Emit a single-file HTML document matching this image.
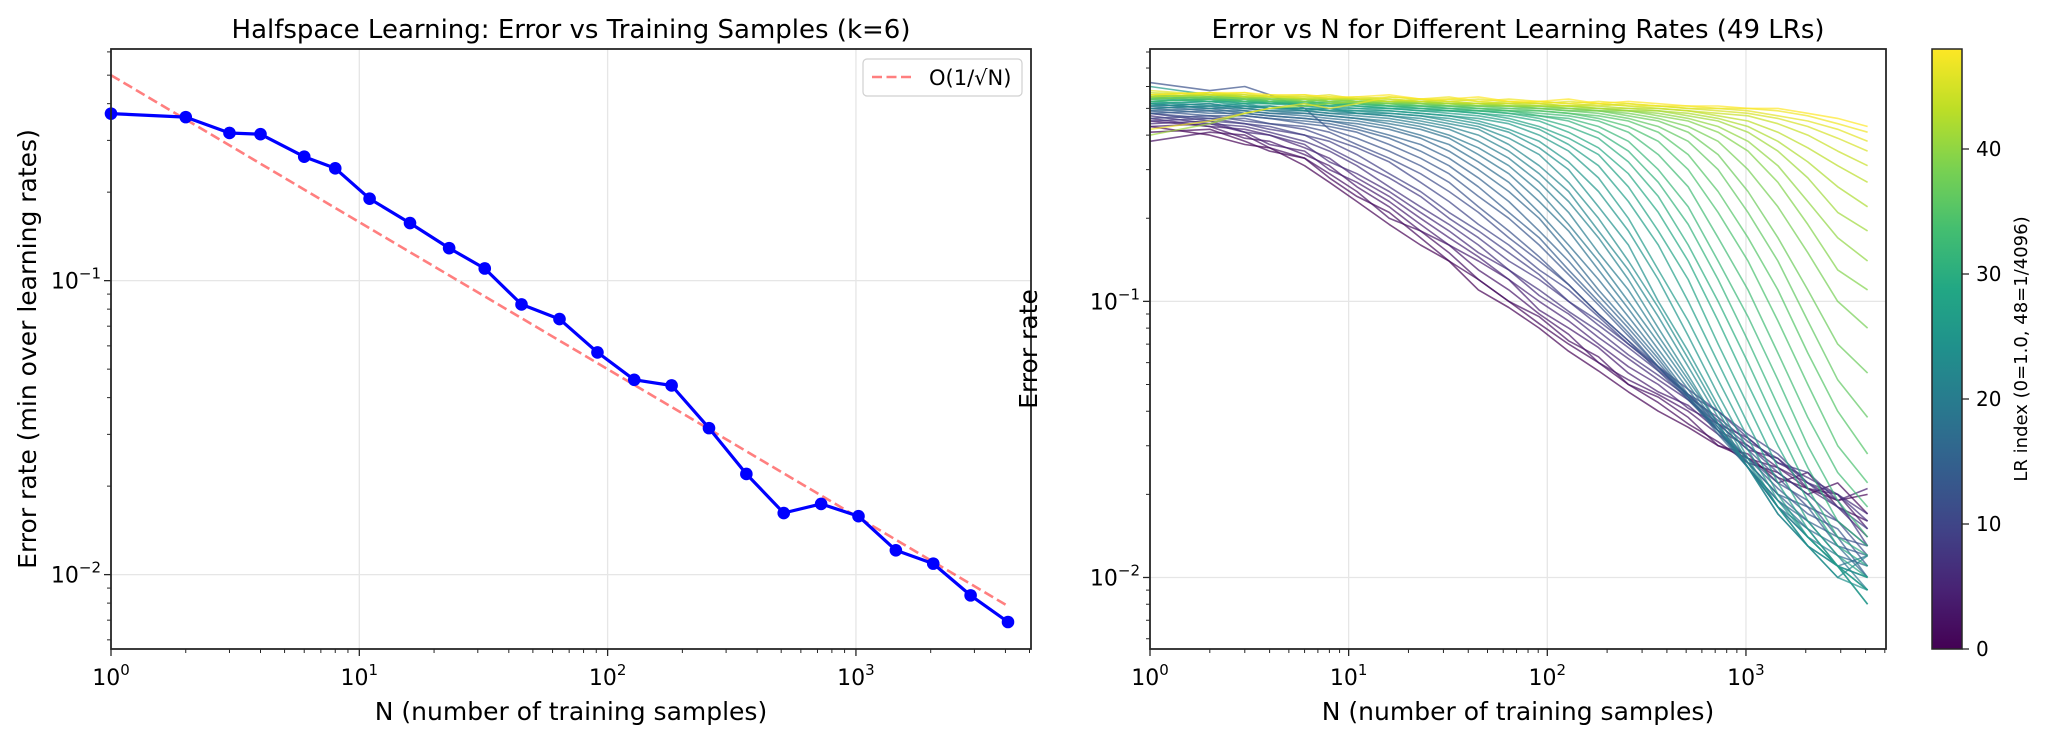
<!DOCTYPE html>
<html><head><meta charset="utf-8"><style>
html,body{margin:0;padding:0;background:#fff;}
svg{display:block;font-family:"DejaVu Sans","Liberation Sans",sans-serif;}
</style></head><body>
<svg id="fig" width="2046" height="736" viewBox="0 0 2046 736" xmlns="http://www.w3.org/2000/svg">
<rect width="2046" height="736" fill="#fff"/>
<g id="left"></g>
<g id="right"></g>
<g id="cbar"></g>
</svg>
<script>
const NS="http://www.w3.org/2000/svg";
const nValues=[1,2,3,4,6,8,11,16,23,32,45,64,91,128,181,256,362,512,724,1024,1448,2048,2896,4096];
const minError=[0.37,0.36,0.318,0.315,0.264,0.241,0.19,0.157,0.129,0.11,0.083,0.074,0.057,0.046,0.044,0.0315,0.022,0.0162,0.0174,0.0158,0.0121,0.0109,0.0085,0.0069];
const refConst=[0.5];
const xTickLabels=["0","1","2","3"];
const yTickExps=["-1","-2"];
const cbarTicks=[0,10,20,30,40];
const lrCurves=[
[.43,.40,.37,.36,.31,.27,.23,.19,.16,.14,.11,.095,.08,.066,.056,.047,.04,.035,.03,.027,.023,.021,.019,.02],
[.41,.42,.38,.35,.33,.28,.24,.21,.17,.14,.12,.10,.083,.07,.06,.05,.043,.036,.031,.026,.024,.02,.022,.017],
[.38,.41,.40,.36,.33,.29,.25,.20,.18,.15,.12,.10,.088,.072,.063,.05,.045,.038,.03,.028,.022,.024,.018,.016],
[.45,.43,.39,.38,.34,.31,.26,.22,.18,.16,.13,.11,.09,.076,.06,.052,.046,.04,.033,.027,.025,.021,.02,.015],
[.43,.44,.41,.37,.35,.30,.27,.23,.19,.16,.14,.12,.093,.08,.068,.055,.047,.042,.034,.03,.025,.022,.019,.021],
[.46,.43,.42,.40,.36,.33,.28,.24,.20,.17,.145,.12,.10,.085,.07,.058,.05,.041,.036,.029,.027,.021,.018,.014],
[.44,.45,.41,.40,.37,.32,.29,.25,.21,.18,.15,.13,.105,.09,.074,.062,.052,.044,.036,.032,.026,.023,.02,.017],
[.47,.44,.43,.41,.38,.35,.31,.26,.22,.19,.16,.13,.11,.092,.078,.064,.054,.045,.038,.031,.027,.022,.02,.016],
[.45,.46,.44,.42,.40,.36,.32,.28,.24,.20,.17,.14,.12,.10,.082,.068,.056,.046,.04,.032,.026,.024,.019,.013],
[.48,.45,.44,.43,.40,.38,.34,.29,.25,.21,.18,.15,.125,.10,.085,.07,.058,.048,.04,.033,.028,.022,.018,.015],
[.46,.47,.45,.44,.42,.39,.36,.32,.27,.23,.19,.16,.13,.11,.088,.07,.057,.046,.037,.03,.024,.02,.016,.013],
[.48,.46,.46,.44,.43,.41,.37,.33,.29,.25,.21,.17,.14,.115,.09,.072,.058,.046,.036,.029,.023,.018,.016,.012],
[.62,.58,.60,.56,.50,.42,.39,.35,.31,.27,.22,.18,.145,.115,.09,.072,.056,.044,.035,.027,.022,.019,.014,.013],
[.49,.47,.47,.46,.44,.43,.41,.37,.33,.29,.24,.2,.16,.125,.097,.075,.058,.044,.034,.027,.021,.017,.015,.011],
[.48,.49,.47,.46,.45,.44,.42,.39,.35,.31,.26,.21,.17,.13,.10,.077,.058,.045,.034,.026,.02,.018,.013,.012],
[.50,.48,.48,.47,.46,.45,.43,.40,.37,.33,.28,.23,.18,.14,.105,.08,.06,.045,.034,.026,.02,.016,.014,.01],
[.49,.50,.48,.47,.46,.45,.44,.42,.39,.35,.30,.25,.20,.15,.11,.083,.062,.045,.033,.025,.019,.016,.012,.011],
[.51,.49,.49,.48,.47,.46,.45,.43,.40,.37,.32,.27,.21,.16,.12,.088,.064,.046,.034,.025,.019,.015,.013,.01],
[.50,.51,.49,.48,.48,.47,.46,.44,.42,.39,.34,.29,.23,.18,.13,.094,.067,.048,.034,.025,.018,.015,.011,.012],
[.52,.50,.50,.49,.48,.47,.46,.45,.43,.40,.36,.31,.25,.19,.14,.10,.071,.05,.035,.025,.018,.014,.012,.009],
[.51,.52,.50,.49,.49,.48,.47,.46,.44,.42,.38,.33,.27,.21,.15,.11,.075,.052,.036,.025,.018,.014,.011,.01],
[.50,.51,.51,.50,.49,.48,.48,.47,.45,.43,.40,.35,.29,.23,.17,.12,.08,.054,.036,.025,.017,.013,.011,.009],
[.52,.50,.51,.50,.50,.49,.48,.47,.46,.44,.42,.37,.31,.25,.18,.13,.088,.058,.038,.025,.017,.013,.01,.012],
[.51,.52,.50,.51,.49,.50,.48,.48,.47,.45,.43,.39,.34,.27,.20,.14,.095,.062,.04,.026,.018,.013,.011,.008],
[.53,.51,.52,.50,.50,.49,.49,.48,.47,.46,.44,.41,.36,.30,.22,.16,.10,.066,.042,.027,.018,.013,.01,.009],
[.52,.53,.51,.51,.50,.50,.49,.49,.48,.47,.45,.42,.38,.32,.25,.18,.12,.075,.046,.029,.019,.014,.011,.01],
[.60,.56,.55,.53,.51,.50,.50,.49,.48,.47,.46,.44,.40,.35,.28,.20,.13,.085,.052,.032,.02,.014,.011,.008],
[.53,.54,.52,.52,.51,.51,.50,.50,.49,.48,.47,.45,.42,.37,.31,.23,.16,.10,.06,.036,.022,.015,.011,.009],
[.52,.53,.53,.52,.52,.51,.51,.50,.49,.49,.48,.46,.43,.39,.34,.26,.18,.12,.07,.042,.025,.016,.012,.01],
[.54,.53,.52,.53,.51,.52,.51,.50,.50,.49,.48,.47,.45,.41,.36,.29,.21,.14,.085,.05,.03,.019,.013,.011],
[.53,.54,.53,.52,.52,.51,.52,.51,.50,.49,.49,.48,.46,.43,.39,.32,.24,.16,.10,.06,.035,.021,.014,.012],
[.55,.53,.54,.52,.53,.52,.51,.51,.50,.50,.49,.48,.47,.45,.41,.35,.27,.19,.12,.072,.042,.025,.016,.013],
[.54,.55,.53,.53,.52,.52,.52,.51,.51,.50,.49,.49,.47,.46,.43,.38,.30,.22,.14,.088,.052,.03,.019,.014],
[.53,.54,.54,.53,.53,.52,.52,.51,.51,.50,.50,.49,.48,.47,.45,.41,.34,.26,.17,.11,.065,.038,.024,.018],
[.55,.54,.53,.54,.52,.53,.52,.52,.51,.51,.50,.49,.49,.48,.46,.43,.38,.30,.21,.14,.085,.05,.03,.022],
[.54,.55,.54,.53,.53,.52,.53,.52,.51,.51,.50,.50,.49,.48,.47,.45,.41,.34,.25,.17,.11,.065,.04,.028],
[.56,.54,.55,.53,.54,.53,.52,.52,.52,.51,.51,.50,.50,.49,.48,.46,.43,.38,.30,.21,.14,.085,.052,.038],
[.55,.56,.54,.54,.53,.54,.53,.52,.52,.51,.51,.51,.50,.49,.49,.47,.45,.41,.34,.25,.17,.11,.07,.055],
[.54,.55,.55,.54,.54,.53,.53,.53,.52,.52,.51,.51,.50,.50,.49,.48,.46,.43,.38,.30,.22,.15,.10,.08],
[.56,.55,.54,.55,.53,.54,.53,.52,.53,.52,.51,.51,.51,.50,.49,.49,.47,.45,.41,.35,.27,.19,.13,.11],
[.55,.56,.55,.54,.54,.53,.54,.53,.52,.52,.52,.51,.51,.50,.50,.49,.48,.46,.43,.38,.31,.23,.17,.14],
[.40,.44,.48,.50,.51,.52,.53,.53,.53,.52,.52,.51,.51,.51,.50,.49,.49,.47,.45,.41,.35,.28,.21,.18],
[.56,.57,.55,.55,.54,.54,.54,.53,.53,.52,.52,.52,.51,.51,.50,.50,.49,.48,.46,.43,.38,.32,.26,.22],
[.55,.56,.56,.55,.55,.54,.54,.54,.53,.53,.52,.52,.52,.51,.51,.50,.50,.49,.47,.45,.41,.36,.31,.27],
[.57,.56,.55,.56,.54,.55,.54,.53,.54,.53,.52,.53,.52,.51,.52,.51,.50,.49,.48,.47,.44,.40,.35,.31],
[.56,.57,.56,.55,.56,.54,.55,.54,.53,.54,.53,.52,.53,.52,.51,.52,.51,.50,.49,.48,.46,.43,.39,.35],
[.58,.56,.57,.55,.55,.56,.54,.55,.54,.53,.54,.53,.52,.53,.52,.51,.51,.50,.50,.49,.47,.45,.42,.38],
[.42,.45,.48,.50,.52,.50,.52,.55,.54,.55,.53,.54,.53,.52,.53,.52,.51,.51,.50,.50,.49,.47,.44,.41],
[.56,.57,.57,.56,.56,.55,.55,.56,.54,.54,.55,.53,.53,.54,.52,.53,.52,.51,.51,.50,.50,.48,.46,.43]
];

function el(tag,attrs,parent,text){const e=document.createElementNS(NS,tag);for(const k in attrs)e.setAttribute(k,attrs[k]);if(text!==undefined)e.textContent=text;parent.appendChild(e);return e;}
const VIR=[[68,1,84],[72,35,116],[64,67,135],[52,94,141],[41,120,142],[32,144,140],[34,167,132],[68,190,112],[121,209,81],[189,222,38],[253,231,37]];
function viridis(t){t=Math.max(0,Math.min(1,t));const p=t*(VIR.length-1);const i=Math.min(VIR.length-2,Math.floor(p));const f=p-i;const a=VIR[i],b=VIR[i+1];return `rgb(${Math.round(a[0]+(b[0]-a[0])*f)},${Math.round(a[1]+(b[1]-a[1])*f)},${Math.round(a[2]+(b[2]-a[2])*f)})`;}
const XMAXL=3.705;
function makeAxes(g,x0,x1,y0,y1,ylo,yhi,name){
  const sx=v=>x0+(Math.log10(v))/XMAXL*(x1-x0);
  const sy=v=>y1-(Math.log10(v)-ylo)/(yhi-ylo)*(y1-y0);
  for(let e=0;e<=3;e++){const x=sx(Math.pow(10,e));const gl=el('line',{x1:x,x2:x,y1:y0,y2:y1,stroke:'#e6e6e6','stroke-width':1.3},g);}
  for(let e=-2;e<=-1;e++){const y=sy(Math.pow(10,e));const gl=el('line',{x1:x0,x2:x1,y1:y,y2:y,stroke:'#e6e6e6','stroke-width':1.3},g);}
  return {sx,sy};
}
function drawFrame(g,x0,x1,y0,y1,sx,sy,ylo,yhi,name){
  el('rect',{x:x0,y:y0,width:x1-x0,height:y1-y0,fill:'none',stroke:'#262626','stroke-width':1.8},g);
  for(let e=0;e<=3;e++){for(let m=1;m<=9;m++){const v=m*Math.pow(10,e);if(Math.log10(v)>XMAXL)continue;const x=sx(v);el('line',{x1:x,x2:x,y1:y1,y2:y1+(m===1?7:4),stroke:'#262626','stroke-width':m===1?1.3:1},g);}}
  xTickLabels.forEach((t,i)=>{const x=sx(Math.pow(10,i));const tx=el('text',{x:x,y:y1+36,'font-size':22,'text-anchor':'middle',fill:'#000'},g,'10');el('tspan',{dy:-10,'font-size':15},tx,t);});
  for(let e=-3;e<=0;e++){for(let m=1;m<=9;m++){const v=m*Math.pow(10,e);const lv=Math.log10(v);if(lv<ylo||lv>yhi)continue;const y=sy(v);el('line',{x1:x0-(m===1?7:4),x2:x0,y1:y,y2:y,stroke:'#262626','stroke-width':m===1?1.3:1},g);}}
  yTickExps.forEach(t=>{const y=sy(Math.pow(10,+t));const tx=el('text',{x:x0-10,y:y+8,'font-size':22,'text-anchor':'end',fill:'#000'},g,'10');el('tspan',{dy:-10,'font-size':15},tx,'\u2212'+t.slice(1));});
}
// LEFT
const L=document.getElementById('left');
const lx0=111,lx1=1031,ly0=49,ly1=649,lylo=-2.253,lyhi=-0.212;
const la=makeAxes(L,lx0,lx1,ly0,ly1,lylo,lyhi,'left');
{const pts=[1,4096].map(n=>la.sx(n).toFixed(1)+','+la.sy(refConst[0]/Math.sqrt(n)).toFixed(1)).join(' ');
const p=el('polyline',{points:pts,fill:'none',stroke:'#ff0000','stroke-opacity':0.5,'stroke-width':2.6,'stroke-dasharray':'10,4.5'},L);
}
{const pts=nValues.map((n,i)=>la.sx(n).toFixed(1)+','+la.sy(minError[i]).toFixed(1)).join(' ');
const p=el('polyline',{points:pts,fill:'none',stroke:'#0000ff','stroke-width':3.2,'stroke-linejoin':'round'},L);

nValues.forEach((n,i)=>{const c=el('circle',{cx:la.sx(n),cy:la.sy(minError[i]),r:6.3,fill:'#0000ff'},L);});}
drawFrame(L,lx0,lx1,ly0,ly1,la.sx,la.sy,lylo,lyhi,'left');
{const t=el('text',{x:(lx0+lx1)/2,y:38,'font-size':26,'text-anchor':'middle'},L,'Halfspace Learning: Error vs Training Samples (k=6)');
const xl=el('text',{x:(lx0+lx1)/2,y:720,'font-size':25,'text-anchor':'middle'},L,'N (number of training samples)');
const yl=el('text',{x:0,y:0,'font-size':25,'text-anchor':'middle',transform:`translate(36,${(ly0+ly1)/2}) rotate(-90)`},L,'Error rate (min over learning rates)');
const lg=el('g',{},L);
el('rect',{x:863,y:59,width:159,height:37,rx:4,fill:'#fff','fill-opacity':0.8,stroke:'#d0d0d0','stroke-width':1.2},lg);
el('line',{x1:872,x2:914,y1:77,y2:77,stroke:'#ff0000','stroke-opacity':0.5,'stroke-width':2.6,'stroke-dasharray':'10,4.5'},lg);
const lt=el('text',{x:929,y:85,'font-size':21},lg,'O(1/\u221AN)');}
// RIGHT
const R=document.getElementById('right');
const rx0=1150,rx1=1886,ry0=49,ry1=649,rylo=-2.259,ryhi=-0.086;
const ra=makeAxes(R,rx0,rx1,ry0,ry1,rylo,ryhi,'right');
lrCurves.forEach((vals,k)=>{const pts=nValues.map((n,i)=>ra.sx(n).toFixed(1)+','+ra.sy(vals[i]).toFixed(1)).join(' ');
const p=el('polyline',{points:pts,fill:'none',stroke:viridis(k/(lrCurves.length-1)),'stroke-opacity':0.7,'stroke-width':1.6,'stroke-linejoin':'round'},R);

});
drawFrame(R,rx0,rx1,ry0,ry1,ra.sx,ra.sy,rylo,ryhi,'right');
{const t=el('text',{x:(rx0+rx1)/2,y:38,'font-size':26,'text-anchor':'middle'},R,'Error vs N for Different Learning Rates (49 LRs)');
const xl=el('text',{x:(rx0+rx1)/2,y:720,'font-size':25,'text-anchor':'middle'},R,'N (number of training samples)');
const yl=el('text',{x:0,y:0,'font-size':25,'text-anchor':'middle',transform:`translate(1037,${(ry0+ry1)/2}) rotate(-90)`},R,'Error rate');}
// COLORBAR
const C=document.getElementById('cbar');
const cx0=1932,cx1=1962,cy0=49,cy1=649,cmax=lrCurves.length-1;
const defs=el('defs',{},C);const gr=el('linearGradient',{id:'vg',x1:0,y1:1,x2:0,y2:0},defs);
for(let i=0;i<=20;i++){el('stop',{offset:(i/20),'stop-color':viridis(i/20)},gr);}
el('rect',{x:cx0,y:cy0,width:cx1-cx0,height:cy1-cy0,fill:'url(#vg)',stroke:'#262626','stroke-width':1.5},C);
cbarTicks.forEach(v=>{const y=cy1-v/cmax*(cy1-cy0);el('line',{x1:cx1,x2:cx1+7,y1:y,y2:y,stroke:'#262626','stroke-width':1.3},C);
const t=el('text',{x:cx1+14,y:y+7,'font-size':20},C,String(v));});
{const yl=el('text',{x:0,y:0,'font-size':18,'text-anchor':'middle',transform:`translate(2027,${(cy0+cy1)/2}) rotate(-90)`},C,'LR index (0=1.0, 48=1/4096)');}
</script>
</body></html>
